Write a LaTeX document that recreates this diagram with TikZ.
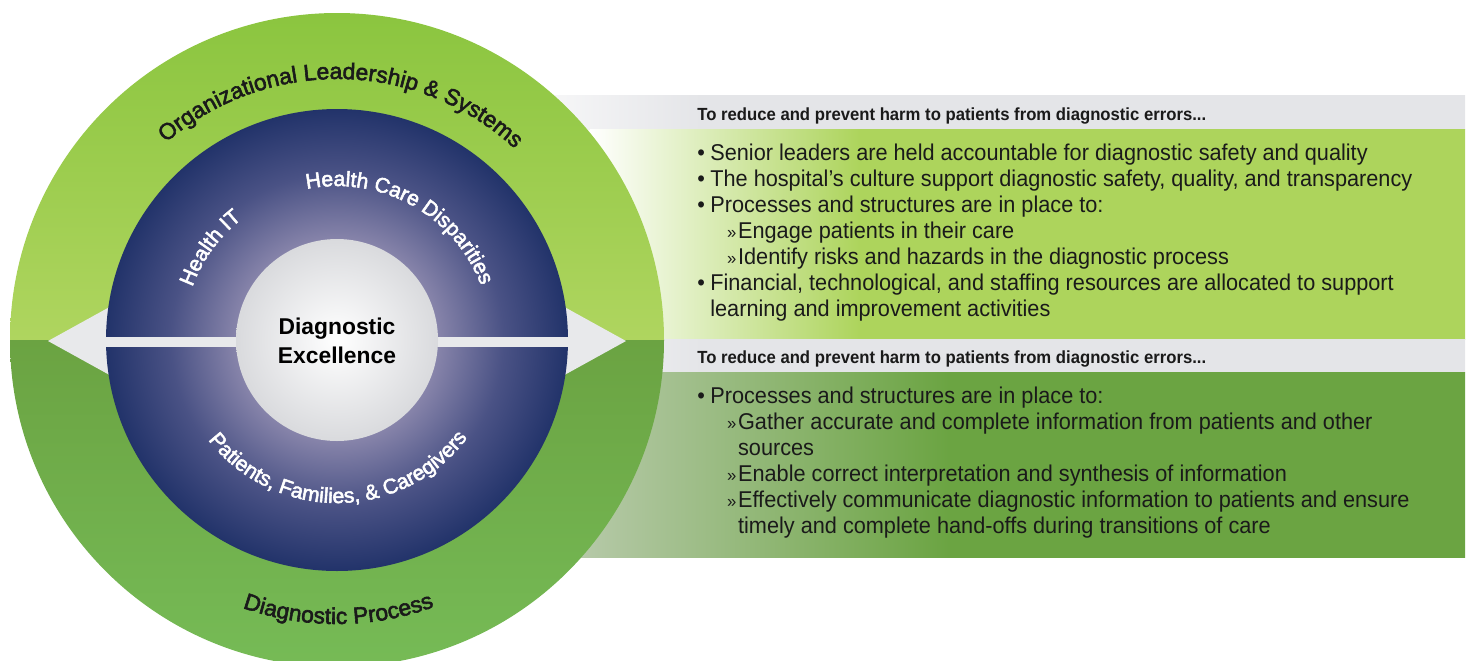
\documentclass[tikz,border=0pt]{standalone}
\usepackage{fontspec}
\setmainfont{Liberation Sans}
\newfontfamily\condfont[FakeStretch=0.95]{Liberation Sans}
\newfontfamily\ringlabel[FakeBold=2.5]{Liberation Sans}
\usepackage{tikz}
\usetikzlibrary{decorations.text}

\definecolor{ringtop}{HTML}{8BC53F}
\definecolor{ringmid}{HTML}{AFD55F}
\definecolor{ringlow}{HTML}{6BA342}
\definecolor{ringbase}{HTML}{76BB56}
\definecolor{navy}{HTML}{22336A}
\definecolor{navymid}{HTML}{4A5285}
\definecolor{navylight}{HTML}{8784AA}
\definecolor{coregray}{HTML}{D9DADD}
\definecolor{barfill}{HTML}{E8E9EB}
\definecolor{bandgray}{HTML}{E4E5E8}
\definecolor{bandpale}{HTML}{F7F7F8}
\definecolor{panelgreen}{HTML}{ADD45C}
\definecolor{paneldark}{HTML}{6BA442}
\definecolor{panelpale}{HTML}{BACBAE}
\definecolor{inkdark}{HTML}{1A1A1A}

\pgfdeclareradialshading{navyring}{\pgfpoint{0bp}{0bp}}{color(0bp)=(navylight); color(10.9bp)=(navylight); color(18bp)=(navymid); color(25bp)=(navy); color(50bp)=(navy)}
\pgfdeclarehorizontalshading{bandfade}{100bp}{color(0bp)=(bandpale); color(25bp)=(bandpale); color(33.5bp)=(bandgray); color(100bp)=(bandgray)}
\pgfdeclarehorizontalshading{upperfade}{100bp}{color(0bp)=(white); color(25bp)=(white); color(40.4bp)=(panelgreen); color(100bp)=(panelgreen)}
\pgfdeclarehorizontalshading{lowerfade}{100bp}{color(0bp)=(panelpale); color(25bp)=(panelpale); color(46.5bp)=(paneldark); color(100bp)=(paneldark)}

\newcommand{\itembul}{\makebox[7.4pt][l]{•}}
\newcommand{\subbul}{\hspace*{17pt}\makebox[6.2pt][l]{\fontsize{10}{10}\selectfont »}}
\newcommand{\arcfont}{\ringlabel\fontsize{13}{13}\selectfont}
\newcommand{\ringfont}{\ringlabel\fontsize{12}{12}\selectfont}

\tikzset{
    headtext/.style={anchor=base west, inner sep=0pt, text=inkdark, font=\condfont\bfseries\fontsize{10}{12}\selectfont},
    listtext/.style={anchor=north west, inner sep=0pt, align=left, text=inkdark, font=\condfont\fontsize{13}{14.8}\selectfont},
    coretext/.style={align=center, inner sep=0pt, text=black, font=\bfseries\fontsize{13}{16.4}\selectfont}
}

\begin{document}
\begin{tikzpicture}[x=0.02cm, y=0.02cm]
                        \useasboundingbox (0,0) rectangle (1468,-660);
                        \coordinate (hub) at (337,-340);

                        \shade[shading=bandfade] (545,-95) rectangle (1465,-129);
                        \shade[shading=upperfade] (590,-129) rectangle (1465,-339);
                        \shade[shading=bandfade] (545,-339) rectangle (1465,-372);
                        \shade[shading=lowerfade] (560,-372) rectangle (1465,-557);

                        \shade[top color=ringtop, bottom color=ringmid] ([shift={(180:327)}]hub) arc[start angle=180, end angle=0, radius=327] -- cycle;
                        \shade[top color=ringlow, bottom color=ringbase] ([shift={(180:327)}]hub) arc[start angle=180, end angle=360, radius=327] -- cycle;

                        \fill[barfill] (48,-341) -- (115,-304) -- (115,-378) -- cycle;
                        \fill[barfill] (626,-341) -- (559,-304) -- (559,-378) -- cycle;
                        \shade[shading=navyring] (hub) circle[radius=231];
                        \fill[barfill] (106,-336.5) rectangle (568,-346.5);
                        \shade[inner color=white, outer color=coregray] (hub) circle[radius=101];

                        \node[coretext] (core) at (337,-341) {Diagnostic\\Excellence};

                        \path[decorate, decoration={text along path, text align=center, text color=inkdark,
                            text={|\arcfont|Organizational Leadership {\&} Systems}}]
                            ([shift={(149:261)}]hub) arc[start angle=149, end angle=29, radius=261];
                        \path[decorate, decoration={text along path, text align=center, text color=inkdark,
                            text={|\arcfont|Diagnostic Process}}]
                            ([shift={(230:284)}]hub) arc[start angle=230, end angle=310.6, radius=284];
                        \path[decorate, decoration={text along path, text align=center, text color=white,
                            text={|\ringfont|Health Care Disparities}}]
                            ([shift={(111:154)}]hub) arc[start angle=111, end angle=11, radius=154];
                        \path[decorate, decoration={text along path, text align=center, text color=white,
                            text={|\ringfont|Health IT}}]
                            ([shift={(175:154)}]hub) arc[start angle=175, end angle=113, radius=154];
                        \path[decorate, decoration={text along path, text align=center, text color=white,
                            text={|\ringfont|Patients, Families, {\&} Caregivers}}]
                            ([shift={(205:163)}]hub) arc[start angle=205, end angle=336, radius=163];

                        \node[headtext] (upperhead) at (697,-120) {To reduce and prevent harm to patients from diagnostic errors...};
                        \node[listtext] (upperlist) at (697,-143.5) {%
                            \itembul Senior leaders are held accountable for diagnostic safety and quality\\
                            \itembul The hospital’s culture support diagnostic safety, quality, and transparency\\
                            \itembul Processes and structures are in place to:\\
                            \subbul Engage patients in their care\\
                            \subbul Identify risks and hazards in the diagnostic process\\
                            \itembul Financial, technological, and staffing resources are allocated to support\\
                            \hspace*{7.4pt}learning and improvement activities};

                        \node[headtext] (lowerhead) at (697,-363) {To reduce and prevent harm to patients from diagnostic errors...};
                        \node[listtext] (lowerlist) at (697,-387) {%
                            \itembul Processes and structures are in place to:\\
                            \subbul Gather accurate and complete information from patients and other\\
                            \hspace*{23.2pt}sources\\
                            \subbul Enable correct interpretation and synthesis of information\\
                            \subbul Effectively communicate diagnostic information to patients and ensure\\
                            \hspace*{23.2pt}timely and complete hand-offs during transitions of care};
                    \end{tikzpicture}
\end{document}
